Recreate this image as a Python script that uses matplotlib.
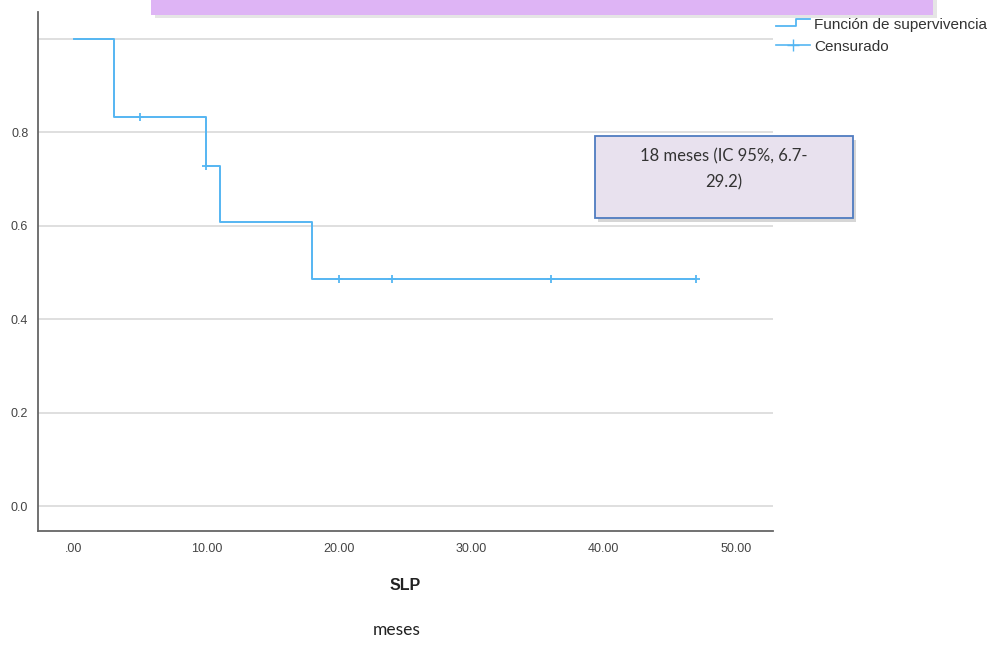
import matplotlib
matplotlib.use('Agg')
import matplotlib.pyplot as plt
from matplotlib.lines import Line2D
from matplotlib.legend_handler import HandlerBase
from matplotlib.patches import Rectangle
from matplotlib.ticker import FuncFormatter

# Kaplan-Meier curve (months, survival)
step_times = [0, 3, 10, 11, 18, 47]
step_surv = [1.0, 0.833, 0.729, 0.608, 0.486, 0.486]
censor_times = [5, 10, 20, 24, 36, 47]
censor_surv = [0.833, 0.729, 0.486, 0.486, 0.486, 0.486]

x_ticks = [0, 10, 20, 30, 40, 50]
y_ticks = [0.0, 0.2, 0.4, 0.6, 0.8, 1.0]
y_labels = ['0.0', '0.2', '0.4', '0.6', '0.8', '']

note_text = '18 meses (IC 95%, 6.7-\n29.2)'
line_color = '#55B6F2'

plt.rcParams['font.family'] = ['Liberation Sans', 'DejaVu Sans']


class StepHandler(HandlerBase):
    # legend glyph drawn as a small rising step, like SPSS does
    def create_artists(self, legend, orig, xd, yd, w, h, fontsize, trans):
        xs = [xd, xd + w * 0.6, xd + w * 0.6, xd + w]
        ys = [yd + h * 0.25, yd + h * 0.25, yd + h * 0.95, yd + h * 0.95]
        ln = Line2D(xs, ys, color=line_color, lw=1.3, transform=trans)
        return [ln]


fig = plt.figure(figsize=(10.03, 6.45), dpi=100)
ax = fig.add_axes([38/1003, 1-531/645, (773-38)/1003, (531-12)/645])

ax.step(step_times, step_surv, where='post', color=line_color, lw=1.4, zorder=3)
ax.plot(censor_times, censor_surv, ls='none', marker='+', ms=6, mew=1.3,
        color=line_color, zorder=4)

ax.set_xlim(-2.72, 52.8)
ax.set_ylim(-0.0535, 1.0578)
ax.set_xticks(x_ticks)
ax.xaxis.set_major_formatter(FuncFormatter(lambda v, p: '.00' if v == 0 else '%.2f' % v))
ax.set_yticks(y_ticks)
ax.set_yticklabels(y_labels)
ax.tick_params(length=0, labelsize=9, labelcolor='#444444')
ax.tick_params(axis='x', pad=9)
ax.tick_params(axis='y', pad=7)
ax.grid(axis='y', color='#D9D9D9', lw=1.2)
ax.set_axisbelow(True)
for s in ['top', 'right']:
    ax.spines[s].set_visible(False)
for s in ['left', 'bottom']:
    ax.spines[s].set_color('#666666')
    ax.spines[s].set_linewidth(1.3)

ax.set_xlabel('SLP', fontsize=11.5, fontweight='bold', color='#222222', labelpad=16)
fig.text(397/1003, 1-630/645, 'meses', ha='center', va='center',
         fontsize=12.5, family=['Lato', 'DejaVu Sans'], color='#222222')

# legend at the top right, outside the plot
h1 = Line2D([], [], color=line_color)
h2 = Line2D([], [], color=line_color, marker='+', ms=9, lw=1.2)
fig.legend([h1, h2], ['Función de supervivencia', 'Censurado'],
           handler_map={h1: StepHandler()},
           loc='upper left', bbox_to_anchor=(776/1003, 1-18/645),
           frameon=False, fontsize=11, handlelength=2.2, handletextpad=0.3,
           labelspacing=0.5, borderaxespad=0, borderpad=0,
           labelcolor='#333333')

# annotation box with median and CI
shadow = Rectangle((598/1003, 1-222/645), (853-595)/1003, (218-136)/645,
                   transform=fig.transFigure, facecolor='#BBBBBB', edgecolor='none',
                   alpha=0.6, zorder=5)
fig.add_artist(shadow)
box = Rectangle((595/1003, 1-218/645), (853-595)/1003, (218-136)/645,
                transform=fig.transFigure, facecolor='#E8E1EE', edgecolor='#4F7CC0',
                lw=1.3, zorder=6)
fig.add_artist(box)
fig.text(724/1003, 1-169/645, note_text, ha='center', va='center', fontsize=12,
         family=['Lato', 'DejaVu Sans'], color='#333333', linespacing=1.75, zorder=7)

# purple banner clipped at the top edge
fig.add_artist(Rectangle((155/1003, 1-18/645), 782/1003, 18/645, transform=fig.transFigure,
                         facecolor='#CCCCCC', edgecolor='none', alpha=0.5, zorder=5))
fig.add_artist(Rectangle((151/1003, 1-15/645), 782/1003, 15/645, transform=fig.transFigure,
                         facecolor='#DEB4F5', edgecolor='none', zorder=6))

fig.savefig('out.png', dpi=100)
